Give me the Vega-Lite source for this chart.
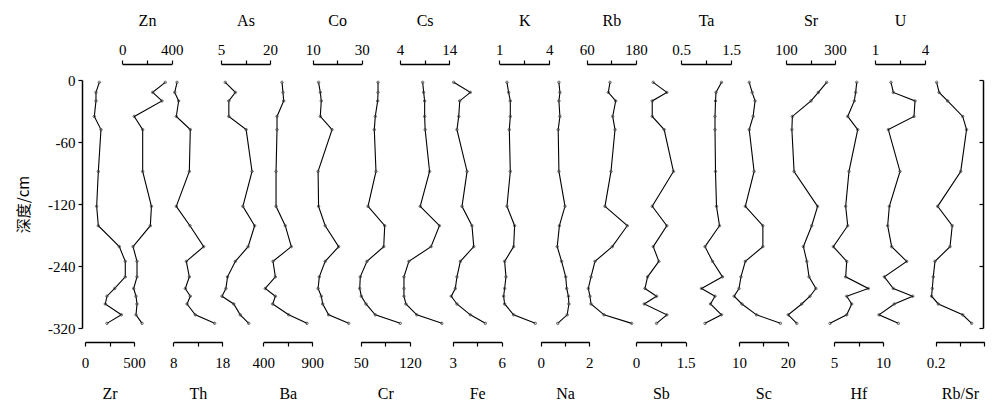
{
  "$schema": "https://vega.github.io/schema/vega-lite/v6.json",
  "width": 901,
  "height": 248,
  "autosize": {"type": "none"},
  "padding": {"left": 82, "top": 80, "right": 10, "bottom": 78},
  "background": "white",
  "data": {"values": [
    {"depth": -3, "Zr": 146, "Zn": 348, "Th": 8.76, "As": 6.3, "Ba": 591, "Co": 12.4, "Cr": 74.6, "Cs": 8.6, "Fe": 3.06, "K": 1.46, "Na": 0.75, "Rb": 116.7, "Sb": 0.52, "Ta": 1.31, "Sc": 12.1, "Sr": 266, "Hf": 7.32, "U": 1.96, "RbSr": 0.204},
    {"depth": -16, "Zr": 112, "Zn": 246, "Th": 8.29, "As": 9.4, "Ba": 601, "Co": 13.1, "Cr": 74.6, "Cs": 8.8, "Fe": 4.08, "K": 1.56, "Na": 0.79, "Rb": 112.6, "Sb": 0.93, "Ta": 1.2, "Sc": 12.7, "Sr": 232, "Hf": 7.21, "U": 2.1, "RbSr": 0.214},
    {"depth": -27, "Zr": 112, "Zn": 321, "Th": 9.1, "As": 7.4, "Ba": 608, "Co": 13.5, "Cr": 74.1, "Cs": 9.0, "Fe": 3.43, "K": 1.66, "Na": 0.75, "Rb": 130.6, "Sb": 0.49, "Ta": 1.19, "Sc": 13.3, "Sr": 202, "Hf": 7.07, "U": 3.4, "RbSr": 0.249},
    {"depth": -47, "Zr": 95, "Zn": 97, "Th": 8.61, "As": 7.4, "Ba": 540, "Co": 13.1, "Cr": 70.7, "Cs": 9.0, "Fe": 3.37, "K": 1.66, "Na": 0.79, "Rb": 123.3, "Sb": 0.49, "Ta": 1.18, "Sc": 12.9, "Sr": 126, "Hf": 6.4, "U": 3.34, "RbSr": 0.311},
    {"depth": -64, "Zr": 163, "Zn": 165, "Th": 11.47, "As": 12.7, "Ba": 540, "Co": 17.9, "Cr": 69.3, "Cs": 9.1, "Fe": 3.26, "K": 1.6, "Na": 0.72, "Rb": 128.9, "Sb": 0.85, "Ta": 1.18, "Sc": 12.1, "Sr": 124, "Hf": 7.42, "U": 1.8, "RbSr": 0.327},
    {"depth": -118, "Zr": 136, "Zn": 165, "Th": 11.27, "As": 14.5, "Ba": 530, "Co": 12.2, "Cr": 71.7, "Cs": 10.0, "Fe": 3.88, "K": 1.66, "Na": 0.75, "Rb": 119.1, "Sb": 1.13, "Ta": 1.19, "Sc": 13.1, "Sr": 133, "Hf": 6.53, "U": 2.5, "RbSr": 0.303},
    {"depth": -163, "Zr": 119, "Zn": 236, "Th": 8.61, "As": 11.7, "Ba": 530, "Co": 12.4, "Cr": 60.4, "Cs": 8.1, "Fe": 3.57, "K": 1.46, "Na": 1.0, "Rb": 104.5, "Sb": 0.49, "Ta": 1.21, "Sc": 11.3, "Sr": 229, "Hf": 6.19, "U": 1.86, "RbSr": 0.208},
    {"depth": -188, "Zr": 136, "Zn": 227, "Th": 11.4, "As": 15.3, "Ba": 624, "Co": 15.1, "Cr": 84.1, "Cs": 12.0, "Fe": 4.18, "K": 1.92, "Na": 0.77, "Rb": 158.8, "Sb": 0.93, "Ta": 1.27, "Sc": 14.9, "Sr": 205, "Hf": 6.4, "U": 1.76, "RbSr": 0.268},
    {"depth": -215, "Zr": 350, "Zn": 87, "Th": 14.2, "As": 13.3, "Ba": 686, "Co": 20.6, "Cr": 82.7, "Cs": 10.3, "Fe": 4.29, "K": 1.86, "Na": 0.68, "Rb": 122.3, "Sb": 0.52, "Ta": 0.98, "Sc": 14.9, "Sr": 171, "Hf": 4.93, "U": 2.0, "RbSr": 0.259},
    {"depth": -234, "Zr": 411, "Zn": 119, "Th": 10.66, "As": 9.4, "Ba": 499, "Co": 15.1, "Cr": 58.9, "Cs": 5.8, "Fe": 3.47, "K": 1.32, "Na": 0.86, "Rb": 80.2, "Sb": 0.69, "Ta": 1.13, "Sc": 11.3, "Sr": 185, "Hf": 6.3, "U": 2.9, "RbSr": 0.197},
    {"depth": -254, "Zr": 411, "Zn": 119, "Th": 11.27, "As": 7.0, "Ba": 523, "Co": 12.7, "Cr": 49.4, "Cs": 4.8, "Fe": 3.26, "K": 1.4, "Na": 1.03, "Rb": 70.5, "Sb": 0.35, "Ta": 1.33, "Sc": 10.4, "Sr": 194, "Hf": 6.19, "U": 1.56, "RbSr": 0.19},
    {"depth": -269, "Zr": 303, "Zn": 92, "Th": 10.45, "As": 6.5, "Ba": 420, "Co": 12.2, "Cr": 48.6, "Cs": 4.8, "Fe": 3.16, "K": 1.32, "Na": 1.07, "Rb": 63.9, "Sb": 0.27, "Ta": 0.91, "Sc": 10.0, "Sr": 222, "Hf": 8.5, "U": 2.1, "RbSr": 0.186},
    {"depth": -279, "Zr": 224, "Zn": 111, "Th": 11.47, "As": 5.3, "Ba": 523, "Co": 13.5, "Cr": 50.9, "Cs": 4.8, "Fe": 2.91, "K": 1.26, "Na": 1.14, "Rb": 68, "Sb": 0.62, "Ta": 1.18, "Sc": 9.0, "Sr": 198, "Hf": 6.3, "U": 3.26, "RbSr": 0.183},
    {"depth": -289, "Zr": 207, "Zn": 119, "Th": 10.8, "As": 8.9, "Ba": 496, "Co": 14.1, "Cr": 57.5, "Cs": 5.2, "Fe": 3.26, "K": 1.32, "Na": 1.16, "Rb": 70.5, "Sb": 0.25, "Ta": 1.09, "Sc": 10.6, "Sr": 164, "Hf": 6.81, "U": 2.16, "RbSr": 0.211},
    {"depth": -303, "Zr": 371, "Zn": 111, "Th": 12.49, "As": 10.9, "Ba": 659, "Co": 16.5, "Cr": 70.7, "Cs": 7.4, "Fe": 4.08, "K": 1.86, "Na": 1.09, "Rb": 102.1, "Sb": 0.93, "Ta": 1.31, "Sc": 13.6, "Sr": 109, "Hf": 6.3, "U": 1.24, "RbSr": 0.311},
    {"depth": -314, "Zr": 224, "Zn": 160, "Th": 16.44, "As": 13.5, "Ba": 846, "Co": 24.7, "Cr": 106.2, "Cs": 12.5, "Fe": 5.0, "K": 3.16, "Na": 0.7, "Rb": 169.5, "Sb": 0.62, "Ta": 0.98, "Sc": 18.5, "Sr": 144, "Hf": 4.59, "U": 2.4, "RbSr": 0.348}
  ]},
  "encoding": {
    "y": {"field": "depth", "type": "quantitative", "scale": {"domain": [-320, 0], "nice": false, "zero": false}, "axis": null},
    "order": {"field": "depth", "type": "quantitative"}
  },
  "layer": [
    {"mark": {"type": "line", "color": "black", "strokeWidth": 1.1, "point": {"filled": false, "size": 6, "color": "#444", "strokeWidth": 0.8}},
     "encoding": {
       "x": {"field": "Zr", "type": "quantitative", "scale": {"domain": [0, 500], "range": [3, 52], "nice": false, "zero": false}, "axis": {"orient": "bottom", "title": "Zr", "values": [0, 250, 500], "labelExpr": "datum.index == 0.5 ? '' : '' + datum.value", "offset": 14, "labelPadding": 9, "titlePadding": 15}},
       "y": {"field": "depth", "type": "quantitative", "scale": {"domain": [-320, 0], "nice": false, "zero": false}, "axis": {"orient": "left", "title": "深度/cm", "titleFont": "Noto Sans CJK SC", "titleFontSize": 15, "titlePadding": 16, "values": [0, -80, -160, -240, -320], "labelExpr": "datum.value == -80 ? '-60' : datum.value == -160 ? '-120' : '' + datum.value", "tickSize": 4, "labelPadding": 3}}
     }},
    {"mark": {"type": "line", "color": "black", "strokeWidth": 1.1, "point": {"filled": false, "size": 6, "color": "#444", "strokeWidth": 0.8}},
     "encoding": {
       "x": {"field": "Zn", "type": "quantitative", "scale": {"domain": [0, 400], "range": [40.3, 89.7], "nice": false, "zero": false}, "axis": {"orient": "top", "title": "Zn", "values": [0, 200, 400], "labelExpr": "datum.index == 0.5 ? '' : '' + datum.value", "offset": 16}},
       "y": {"field": "depth", "type": "quantitative", "scale": {"domain": [-320, 0], "nice": false, "zero": false}, "axis": {"orient": "right", "title": null, "labels": false, "values": [0, -80, -160, -240, -320], "tickSize": -4, "offset": 0}}
     }},
    {"mark": {"type": "line", "color": "black", "strokeWidth": 1.1, "point": {"filled": false, "size": 6, "color": "#444", "strokeWidth": 0.8}},
     "encoding": {"x": {"field": "Th", "type": "quantitative", "scale": {"domain": [8, 18], "range": [91.3, 140.3], "nice": false, "zero": false}, "axis": {"orient": "bottom", "title": "Th", "values": [8, 13, 18], "labelExpr": "datum.index == 0.5 ? '' : '' + datum.value", "offset": 14, "labelPadding": 9, "titlePadding": 15}}}},
    {"mark": {"type": "line", "color": "black", "strokeWidth": 1.1, "point": {"filled": false, "size": 6, "color": "#444", "strokeWidth": 0.8}},
     "encoding": {"x": {"field": "As", "type": "quantitative", "scale": {"domain": [5, 20], "range": [139, 188], "nice": false, "zero": false}, "axis": {"orient": "top", "title": "As", "values": [5, 12.5, 20], "labelExpr": "datum.index == 0.5 ? '' : '' + datum.value", "offset": 16}}}},
    {"mark": {"type": "line", "color": "black", "strokeWidth": 1.1, "point": {"filled": false, "size": 6, "color": "#444", "strokeWidth": 0.8}},
     "encoding": {"x": {"field": "Ba", "type": "quantitative", "scale": {"domain": [400, 900], "range": [181.3, 230.3], "nice": false, "zero": false}, "axis": {"orient": "bottom", "title": "Ba", "values": [400, 650, 900], "labelExpr": "datum.index == 0.5 ? '' : '' + datum.value", "offset": 14, "labelPadding": 9, "titlePadding": 15}}}},
    {"mark": {"type": "line", "color": "black", "strokeWidth": 1.1, "point": {"filled": false, "size": 6, "color": "#444", "strokeWidth": 0.8}},
     "encoding": {"x": {"field": "Co", "type": "quantitative", "scale": {"domain": [10, 30], "range": [230.7, 279.7], "nice": false, "zero": false}, "axis": {"orient": "top", "title": "Co", "values": [10, 20, 30], "labelExpr": "datum.index == 0.5 ? '' : '' + datum.value", "offset": 16}}}},
    {"mark": {"type": "line", "color": "black", "strokeWidth": 1.1, "point": {"filled": false, "size": 6, "color": "#444", "strokeWidth": 0.8}},
     "encoding": {"x": {"field": "Cr", "type": "quantitative", "scale": {"domain": [50, 120], "range": [278.7, 328], "nice": false, "zero": false}, "axis": {"orient": "bottom", "title": "Cr", "values": [50, 85, 120], "labelExpr": "datum.index == 0.5 ? '' : '' + datum.value", "offset": 14, "labelPadding": 9, "titlePadding": 15}}}},
    {"mark": {"type": "line", "color": "black", "strokeWidth": 1.1, "point": {"filled": false, "size": 6, "color": "#444", "strokeWidth": 0.8}},
     "encoding": {"x": {"field": "Cs", "type": "quantitative", "scale": {"domain": [4, 14], "range": [318, 367.3], "nice": false, "zero": false}, "axis": {"orient": "top", "title": "Cs", "values": [4, 9, 14], "labelExpr": "datum.index == 0.5 ? '' : '' + datum.value", "offset": 16}}}},
    {"mark": {"type": "line", "color": "black", "strokeWidth": 1.1, "point": {"filled": false, "size": 6, "color": "#444", "strokeWidth": 0.8}},
     "encoding": {"x": {"field": "Fe", "type": "quantitative", "scale": {"domain": [3, 6], "range": [370.7, 419.7], "nice": false, "zero": false}, "axis": {"orient": "bottom", "title": "Fe", "values": [3, 4.5, 6], "labelExpr": "datum.index == 0.5 ? '' : '' + datum.value", "offset": 14, "labelPadding": 9, "titlePadding": 15}}}},
    {"mark": {"type": "line", "color": "black", "strokeWidth": 1.1, "point": {"filled": false, "size": 6, "color": "#444", "strokeWidth": 0.8}},
     "encoding": {"x": {"field": "K", "type": "quantitative", "scale": {"domain": [1, 4], "range": [417.3, 467.3], "nice": false, "zero": false}, "axis": {"orient": "top", "title": "K", "values": [1, 2.5, 4], "labelExpr": "datum.index == 0.5 ? '' : '' + datum.value", "offset": 16}}}},
    {"mark": {"type": "line", "color": "black", "strokeWidth": 1.1, "point": {"filled": false, "size": 6, "color": "#444", "strokeWidth": 0.8}},
     "encoding": {"x": {"field": "Na", "type": "quantitative", "scale": {"domain": [0, 2], "range": [458.7, 507.3], "nice": false, "zero": false}, "axis": {"orient": "bottom", "title": "Na", "values": [0, 1, 2], "labelExpr": "datum.index == 0.5 ? '' : '' + datum.value", "offset": 14, "labelPadding": 9, "titlePadding": 15}}}},
    {"mark": {"type": "line", "color": "black", "strokeWidth": 1.1, "point": {"filled": false, "size": 6, "color": "#444", "strokeWidth": 0.8}},
     "encoding": {"x": {"field": "Rb", "type": "quantitative", "scale": {"domain": [60, 180], "range": [504.7, 554], "nice": false, "zero": false}, "axis": {"orient": "top", "title": "Rb", "values": [60, 120, 180], "labelExpr": "datum.index == 0.5 ? '' : '' + datum.value", "offset": 16}}}},
    {"mark": {"type": "line", "color": "black", "strokeWidth": 1.1, "point": {"filled": false, "size": 6, "color": "#444", "strokeWidth": 0.8}},
     "encoding": {"x": {"field": "Sb", "type": "quantitative", "scale": {"domain": [0, 1.5], "range": [554, 603.7], "nice": false, "zero": false}, "axis": {"orient": "bottom", "title": "Sb", "values": [0, 0.75, 1.5], "labelExpr": "datum.index == 0.5 ? '' : '' + datum.value", "offset": 14, "labelPadding": 9, "titlePadding": 15}}}},
    {"mark": {"type": "line", "color": "black", "strokeWidth": 1.1, "point": {"filled": false, "size": 6, "color": "#444", "strokeWidth": 0.8}},
     "encoding": {"x": {"field": "Ta", "type": "quantitative", "scale": {"domain": [0.5, 1.5], "range": [599, 649], "nice": false, "zero": false}, "axis": {"orient": "top", "title": "Ta", "values": [0.5, 1, 1.5], "labelExpr": "datum.index == 0.5 ? '' : '' + datum.value", "offset": 16}}}},
    {"mark": {"type": "line", "color": "black", "strokeWidth": 1.1, "point": {"filled": false, "size": 6, "color": "#444", "strokeWidth": 0.8}},
     "encoding": {"x": {"field": "Sc", "type": "quantitative", "scale": {"domain": [10, 20], "range": [657, 705.7], "nice": false, "zero": false}, "axis": {"orient": "bottom", "title": "Sc", "values": [10, 15, 20], "labelExpr": "datum.index == 0.5 ? '' : '' + datum.value", "offset": 14, "labelPadding": 9, "titlePadding": 15}}}},
    {"mark": {"type": "line", "color": "black", "strokeWidth": 1.1, "point": {"filled": false, "size": 6, "color": "#444", "strokeWidth": 0.8}},
     "encoding": {"x": {"field": "Sr", "type": "quantitative", "scale": {"domain": [100, 300], "range": [704, 753], "nice": false, "zero": false}, "axis": {"orient": "top", "title": "Sr", "values": [100, 200, 300], "labelExpr": "datum.index == 0.5 ? '' : '' + datum.value", "offset": 16}}}},
    {"mark": {"type": "line", "color": "black", "strokeWidth": 1.1, "point": {"filled": false, "size": 6, "color": "#444", "strokeWidth": 0.8}},
     "encoding": {"x": {"field": "Hf", "type": "quantitative", "scale": {"domain": [5, 10], "range": [752, 801], "nice": false, "zero": false}, "axis": {"orient": "bottom", "title": "Hf", "values": [5, 7.5, 10], "labelExpr": "datum.index == 0.5 ? '' : '' + datum.value", "offset": 14, "labelPadding": 9, "titlePadding": 15}}}},
    {"mark": {"type": "line", "color": "black", "strokeWidth": 1.1, "point": {"filled": false, "size": 6, "color": "#444", "strokeWidth": 0.8}},
     "encoding": {"x": {"field": "U", "type": "quantitative", "scale": {"domain": [1, 4], "range": [793, 843], "nice": false, "zero": false}, "axis": {"orient": "top", "title": "U", "values": [1, 2.5, 4], "labelExpr": "datum.index == 0.5 ? '' : '' + datum.value", "offset": 16}}}},
    {"mark": {"type": "line", "color": "black", "strokeWidth": 1.1, "point": {"filled": false, "size": 6, "color": "#444", "strokeWidth": 0.8}},
     "encoding": {"x": {"field": "RbSr", "type": "quantitative", "scale": {"domain": [0.2, 0.4], "range": [853.7, 902.3], "nice": false, "zero": false}, "axis": {"orient": "bottom", "title": "Rb/Sr", "values": [0.2, 0.3, 0.4], "labelExpr": "datum.index == 0 ? '' + datum.value : ''", "offset": 14, "labelPadding": 9, "titlePadding": 15}}}}
  ],
  "resolve": {"scale": {"x": "independent"}, "axis": {"x": "independent", "y": "independent"}},
  "config": {
    "view": {"stroke": null},
    "axis": {
      "grid": false,
      "domainColor": "black",
      "domainWidth": 1.5,
      "tickColor": "black",
      "tickWidth": 1.2,
      "tickSize": 4,
      "labelFlush": false,
      "labelFont": "Liberation Serif",
      "labelFontSize": 15,
      "labelColor": "black",
      "labelPadding": 3,
      "titleFont": "Liberation Serif",
      "titleFontSize": 16,
      "titleFontWeight": "normal",
      "titleColor": "black",
      "titlePadding": 14,
      "labelOverlap": false
    }
  }
}
